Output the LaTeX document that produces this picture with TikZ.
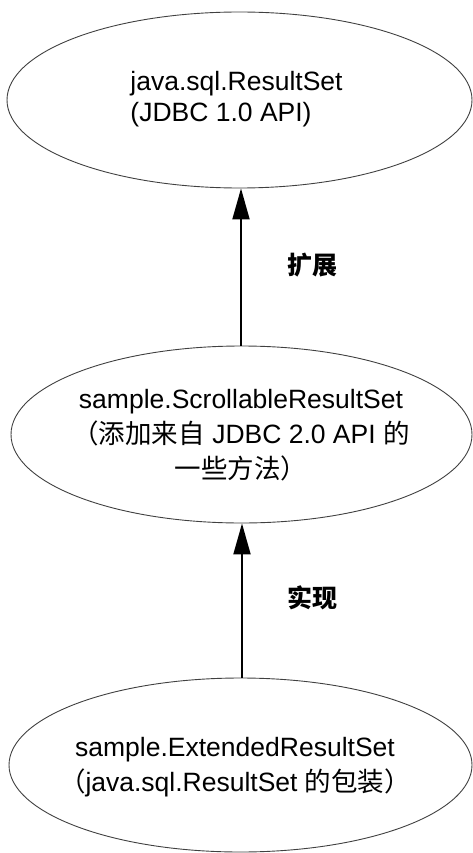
\documentclass[tikz,border=0pt]{standalone}
\usepackage{fontspec}
\setmainfont{Liberation Sans}
\newfontfamily\cjk{Noto Sans CJK SC}
\usetikzlibrary{shapes.geometric,arrows.meta}
\tikzset{
  ell/.style={draw=black!75, line width=0.9pt, shape=ellipse, inner sep=0pt},
  txt/.style={font=\fontsize{26.5}{35}\selectfont, inner sep=0pt},
  lbl/.style={font=\fontsize{25}{30}\selectfont\cjk\bfseries, inner sep=0pt},
  conn/.style={line width=2pt, -{Triangle[length=31pt,width=17pt]}}
}
\begin{document}
\begin{tikzpicture}[x=1pt,y=-1pt]
\useasboundingbox (0,0) rectangle (473,853);
\node[ell, minimum width=465, minimum height=176] (top) at (239.5,100) {};
\node[ell, minimum width=461, minimum height=177] (mid) at (241.5,434.5) {};
\node[ell, minimum width=463, minimum height=174] (bot) at (240.5,765) {};
\node[txt, align=left, font=\fontsize{26.5}{31}\selectfont] (toptext) at (236.5,99) {java.sql.ResultSet\\(JDBC 1.0 API)};
\node[txt, align=center] (midtext) at (241,435) {sample.ScrollableResultSet\\{\cjk （添加来自} JDBC 2.0 API {\cjk 的}\\{\cjk 一些方法）}};
\node[txt, align=center] (bottext) at (235,767) {sample.ExtendedResultSet\\{\cjk （}java.sql.ResultSet {\cjk 的包装）}};
\draw[conn] (mid.north -| 241,0) -- (top.south -| 241,0);
\draw[conn] (bot.north -| 242,0) -- (mid.south -| 242,0);
\node[lbl] (l1) at (312,265) {扩展};
\node[lbl] (l2) at (312,598) {实现};
\end{tikzpicture}
\end{document}
